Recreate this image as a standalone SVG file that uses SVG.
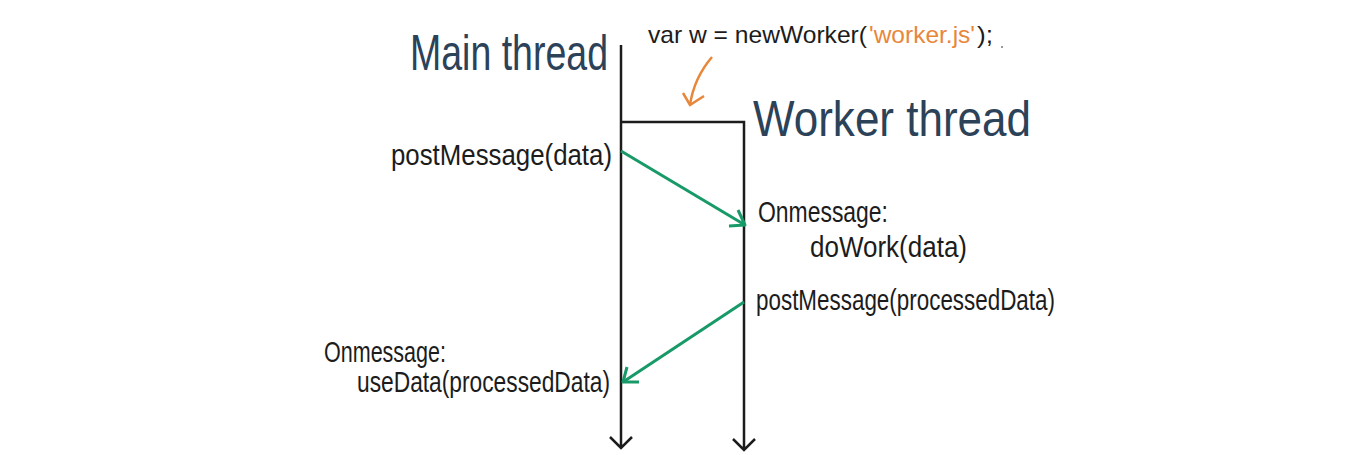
<svg xmlns="http://www.w3.org/2000/svg" width="1368" height="455" viewBox="0 0 1368 455">
<style>
.title{font-family:"Liberation Sans",Arial,sans-serif;fill:#2b4258;font-size:50px}
.lbl{font-family:"Liberation Sans",Arial,sans-serif;fill:#1c1c1c;font-size:29px}
.code{font-family:"Liberation Sans",Arial,sans-serif;fill:#1c1c1c;font-size:24px}
.str{fill:#e8873a}
.life{stroke:#1c1c1c;stroke-width:2.5;fill:none}
.msg{stroke:#189a68;stroke-width:3;fill:none;stroke-linejoin:round}
</style>
<rect width="1368" height="455" fill="#ffffff"/>
<g id="main-thread">
<text class="title" transform="translate(410,70) scale(0.75,1)" x="0" y="0" textLength="264" lengthAdjust="spacingAndGlyphs">Main thread</text>
<path class="life" d="M621 45 V448 M610 437 L621 448 L632 437"/>
</g>
<g id="worker-thread">
<text class="title" transform="translate(753,136) scale(0.826,1)" x="0" y="0" textLength="336.6" lengthAdjust="spacingAndGlyphs">Worker thread</text>
<path class="life" d="M621 122 H744 V450 M733 439 L744 450 L755 439"/>
</g>
<g id="create-worker">
<text class="code" x="648" y="43" textLength="219" lengthAdjust="spacingAndGlyphs">var w = newWorker(</text>
<text class="code str" x="869" y="43" textLength="106" lengthAdjust="spacingAndGlyphs">'worker.js'</text>
<text class="code" x="977" y="43" textLength="16" lengthAdjust="spacingAndGlyphs">);</text>
<path d="M712 57 Q694 78 690 105" stroke="#e8873a" stroke-width="2.5" fill="none"/>
<path d="M683 93 L690 105 L704 96" stroke="#e8873a" stroke-width="2.5" fill="none"/>
<circle cx="1002" cy="47" r="1" fill="#777"/>
</g>
<g id="main-post">
<text class="lbl" x="391" y="165" textLength="221" lengthAdjust="spacingAndGlyphs">postMessage(data)</text>
</g>
<g id="worker-onmessage">
<text class="lbl" x="758" y="222" textLength="130" lengthAdjust="spacingAndGlyphs">Onmessage:</text>
<text class="lbl" x="810" y="257" textLength="157" lengthAdjust="spacingAndGlyphs">doWork(data)</text>
</g>
<g id="worker-post">
<text class="lbl" x="756" y="310" textLength="299" lengthAdjust="spacingAndGlyphs">postMessage(processedData)</text>
</g>
<g id="main-onmessage">
<text class="lbl" x="324" y="362" textLength="122" lengthAdjust="spacingAndGlyphs">Onmessage:</text>
<text class="lbl" x="357" y="392" textLength="253" lengthAdjust="spacingAndGlyphs">useData(processedData)</text>
</g>
<g id="connectors">
<path class="msg" d="M621 151 L745 225"/>
<path class="msg" d="M738 210 L745 225 L729 226"/>
<path class="msg" d="M744 302 L623 382"/>
<path class="msg" d="M627 367 L623 382 L639 382"/>
</g>
</svg>
